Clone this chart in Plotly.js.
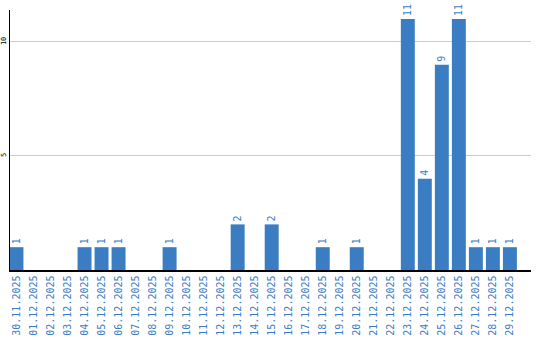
<!DOCTYPE html>
<html><head><meta charset="utf-8">
<script src="https://cdn.plot.ly/plotly-3.0.1.min.js"></script>
<style>html,body{margin:0;padding:0;background:#fff}#c{width:540px;height:340px}</style>
</head><body><div id="c"></div>
<script>
const dates = ["30.11.2025","01.12.2025","02.12.2025","03.12.2025","04.12.2025","05.12.2025","06.12.2025","07.12.2025","08.12.2025","09.12.2025","10.12.2025","11.12.2025","12.12.2025","13.12.2025","14.12.2025","15.12.2025","16.12.2025","17.12.2025","18.12.2025","19.12.2025","20.12.2025","21.12.2025","22.12.2025","23.12.2025","24.12.2025","25.12.2025","26.12.2025","27.12.2025","28.12.2025","29.12.2025"];
const counts = [1,0,0,0,1,1,1,0,0,1,0,0,0,2,0,2,0,0,1,0,1,0,0,11,4,9,11,1,1,1];
const labels = counts.map(v => v > 0 ? String(v) : "");
const yTicks = [5, 10];
const blue = "#3b7dc2";
Plotly.newPlot("c", [{
  type: "bar", x: dates, y: counts, text: labels,
  textposition: "outside", textangle: -90, cliponaxis: false, constraintext: "none",
  textfont: {family: "DejaVu Sans Mono", size: 10, color: blue},
  marker: {color: blue}, hoverinfo: "none"
}], {
  width: 540, height: 340,
  margin: {l: 10, r: 9, t: 10, b: 70, pad: 0},
  paper_bgcolor: "#fff", plot_bgcolor: "#fff",
  showlegend: false, bargap: 0.18,
  xaxis: {type: "category", range: [-0.38, 30.24], showline: true, linecolor: "#000", linewidth: 1.5,
    tickangle: -90, tickfont: {family: "DejaVu Sans Mono", size: 10, color: blue}, ticks: "", ticklen: 0, showgrid: false, fixedrange: true},
  yaxis: {range: [0, 11.4], tickvals: yTicks, ticktext: yTicks.map(String), tickangle: -90, showline: true, linecolor: "#000", linewidth: 1.5,
    gridcolor: "#cccccc", zeroline: false, ticks: "", ticklen: 0, tickfont: {family: "DejaVu Sans Mono", size: 7, color: "#000"}, fixedrange: true}
}, {displayModeBar: false, staticPlot: true});
</script></body></html>
